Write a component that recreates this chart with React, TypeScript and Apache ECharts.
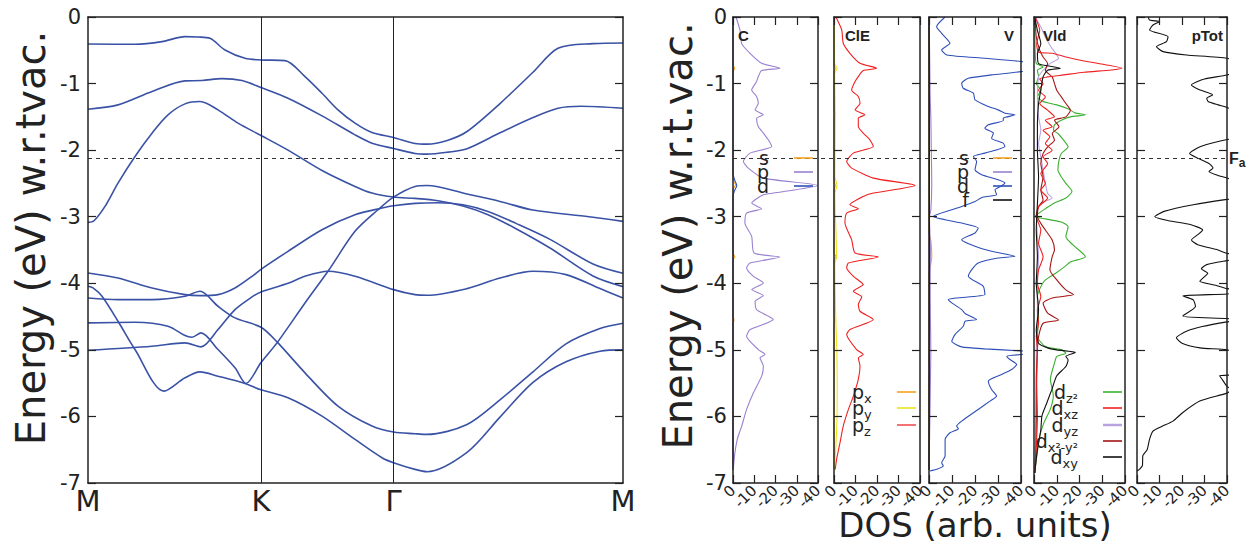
import React, { useEffect, useRef } from 'react';
import * as echarts from 'echarts';

// ---------------- data ----------------
const K_POINTS = [0, 173, 305.5, 535];
const K_LABELS = ['M', 'K', 'Γ', 'M'];
const FERMI = -2.12;
const E_MIN = -7;
const E_MAX = 0;
const DOS_MIN = -40;
const DOS_MAX = 0;

// band structure: [k, E]
const BAND_A = [[0,-0.405],[47,-0.41],[74,-0.37],[97,-0.295],[110,-0.3],[122,-0.32],[137,-0.495],[157,-0.62],[173,-0.645],[197,-0.655],[217,-0.895],[234,-1.145],[250,-1.395],[267,-1.595],[284,-1.735],[305.5,-1.81],[327,-1.9],[339,-1.91],[360,-1.85],[379,-1.72],[412,-1.3],[445,-0.83],[470,-0.47],[505,-0.4],[535,-0.39]];
const BAND_B = [[0,-1.385],[30,-1.32],[64,-1.12],[97,-0.96],[114,-0.955],[134,-0.925],[154,-0.955],[173,-1.06],[200,-1.22],[234,-1.485],[267,-1.77],[284,-1.895],[305.5,-1.975],[327,-2.05],[339,-2.06],[360,-2.03],[379,-1.98],[412,-1.74],[445,-1.51],[470,-1.37],[493,-1.34],[535,-1.37]];
const BAND_C = [[0,-3.085],[6,-3.06],[17,-2.845],[30,-2.495],[47,-2.095],[64,-1.745],[80,-1.47],[97,-1.305],[112,-1.27],[130,-1.395],[150,-1.595],[173,-1.78],[200,-2.0],[234,-2.305],[267,-2.545],[284,-2.645],[305.5,-2.705],[327,-2.725],[350,-2.76],[375,-2.84],[400,-2.97],[428,-3.18],[462,-3.47],[505,-3.89],[535,-4.05]];
const BAND_D = [[0,-3.845],[30,-3.92],[64,-4.07],[97,-4.17],[112,-4.185],[130,-4.17],[147,-4.07],[164,-3.895],[173,-3.79],[200,-3.52],[234,-3.195],[267,-2.97],[294,-2.87],[305.5,-2.835],[327,-2.8],[350,-2.79],[375,-2.82],[400,-2.92],[428,-3.1],[462,-3.34],[505,-3.71],[535,-3.85]];
const BAND_E = [[0,-4.045],[5,-4.07],[14,-4.195],[30,-4.57],[47,-4.995],[76,-5.62],[97,-5.42],[112,-5.33],[130,-5.395],[157,-5.505],[173,-5.6],[200,-5.72],[234,-5.995],[267,-6.345],[294,-6.62],[305.5,-6.695],[327,-6.795],[339,-6.83],[379,-6.54],[412,-6.01],[445,-5.49],[478,-5.18],[512,-5.02],[535,-5.0]];
const BAND_F = [[0,-4.22],[30,-4.245],[64,-4.245],[97,-4.195],[112,-4.12],[130,-4.345],[147,-4.52],[173,-4.66],[189,-4.88],[217,-5.345],[250,-5.845],[284,-6.145],[305.5,-6.235],[327,-6.26],[339,-6.27],[379,-6.12],[412,-5.75],[445,-5.33],[478,-4.91],[512,-4.68],[535,-4.6]];
const BAND_G = [[0,-4.595],[47,-4.585],[80,-4.645],[97,-4.785],[104,-4.81],[113,-4.745],[130,-4.995],[147,-5.27],[158,-5.505],[173,-5.19],[189,-4.895],[217,-4.295],[240,-3.82],[267,-3.22],[290,-2.895],[305.5,-2.705],[327,-2.545],[339,-2.53],[379,-2.66],[412,-2.77],[445,-2.9],[501,-3.0],[535,-3.07]];
const BAND_H = [[0,-5.005],[64,-4.945],[97,-4.895],[113,-4.955],[130,-4.695],[147,-4.395],[164,-4.205],[173,-4.13],[200,-4.0],[217,-3.895],[240,-3.82],[267,-3.895],[305.5,-4.095],[327,-4.17],[339,-4.18],[379,-4.08],[412,-3.92],[445,-3.82],[478,-3.87],[512,-4.08],[535,-4.22]];
const BANDS = [BAND_A, BAND_B, BAND_C, BAND_D, BAND_E, BAND_F, BAND_G, BAND_H];

// DOS curves: [E, DOS]
const C_S = [[0,0],[-0.72,0],[-0.77,-0.8],[-0.82,0],[-2.45,0],[-2.52,-1.2],[-2.6,0],[-3.55,0],[-3.6,-0.9],[-3.65,0],[-4.5,0],[-4.55,-0.5],[-4.6,0],[-6.8,0]];
const C_P = [[0,-1.4],[-0.2,-3.3],[-0.4,-4.1],[-0.545,-8.0],[-0.695,-13.5],[-0.77,-22.1],[-0.805,-13.5],[-0.895,-11.9],[-0.97,-11.1],[-1.095,-8.8],[-1.195,-11.1],[-1.295,-11.9],[-1.395,-10.4],[-1.47,-14.3],[-1.52,-11.1],[-1.645,-11.9],[-1.745,-14.3],[-1.845,-16.6],[-1.945,-18.2],[-2.045,-8.0],[-2.17,-4.9],[-2.27,-7.2],[-2.42,-14.3],[-2.53,-39.7],[-2.645,-19.0],[-2.67,-14.3],[-2.795,-8.8],[-2.88,-13.5],[-2.945,-6.4],[-3.095,-5.6],[-3.295,-8.8],[-3.545,-9.9],[-3.605,-22.1],[-3.695,-8.0],[-3.77,-6.4],[-3.895,-9.6],[-3.995,-14.3],[-4.095,-8.8],[-4.185,-14.3],[-4.27,-10.4],[-4.395,-11.1],[-4.545,-19.0],[-4.695,-8.0],[-4.795,-6.4],[-4.995,-11.9],[-5.07,-15.1],[-5.12,-12.7],[-5.245,-14.3],[-5.395,-13.5],[-5.645,-9.6],[-5.895,-6.4],[-6.145,-4.1],[-6.245,-3.0],[-6.345,-2.0],[-6.545,-0.9],[-6.77,-0.2]];
const C_D = [[0,0],[-2.35,0],[-2.45,-0.8],[-2.53,-1.8],[-2.62,-0.6],[-2.7,0],[-6.8,0]];

const CLE_PX = [[0,0],[-0.72,0],[-0.77,-0.6],[-0.82,0],[-1.4,0],[-1.45,-0.5],[-1.5,0],[-2.45,0],[-2.53,-0.6],[-2.6,0],[-3.55,0],[-3.6,-1.0],[-3.65,0],[-4.5,0],[-4.55,-0.4],[-4.6,0],[-6.8,0]];
const CLE_PY = [[0,-0.2],[-0.7,-0.3],[-0.77,-1.5],[-0.85,-0.3],[-1.5,-0.6],[-2.4,-0.4],[-2.53,-1.4],[-2.65,-0.4],[-3.6,-1.2],[-3.7,-0.4],[-4.5,-0.8],[-5.0,-1.3],[-5.5,-1.5],[-6.0,-1.4],[-6.5,-0.8],[-6.8,0]];
const CLE_PZ = [[0,-0.9],[-0.195,-3.6],[-0.395,-4.3],[-0.545,-7.4],[-0.695,-12.1],[-0.77,-19.8],[-0.805,-13.6],[-0.895,-11.3],[-0.97,-9.8],[-1.095,-8.2],[-1.195,-11.3],[-1.295,-12.1],[-1.395,-9.8],[-1.47,-14.4],[-1.52,-11.3],[-1.645,-11.3],[-1.745,-13.6],[-1.845,-16.7],[-1.945,-18.3],[-2.045,-9.0],[-2.17,-5.9],[-2.27,-8.2],[-2.42,-18.3],[-2.53,-37.7],[-2.645,-18.3],[-2.695,-13.6],[-2.82,-7.4],[-2.88,-11.3],[-2.945,-5.9],[-3.095,-5.1],[-3.345,-8.2],[-3.545,-9.8],[-3.605,-20.6],[-3.695,-6.7],[-3.77,-5.9],[-3.895,-9.0],[-4.02,-13.6],[-4.12,-9.0],[-4.205,-12.9],[-4.32,-11.3],[-4.42,-12.1],[-4.545,-18.3],[-4.695,-7.4],[-4.77,-5.9],[-4.995,-10.5],[-5.07,-13.6],[-5.12,-11.3],[-5.245,-12.1],[-5.445,-11.3],[-5.695,-9.0],[-5.895,-6.7],[-6.145,-4.3],[-6.395,-2.8],[-6.645,-1.2],[-6.795,-0.6]];

const V_S = [[0,0],[-3.25,0],[-3.35,-0.8],[-3.6,-1.2],[-3.75,-0.6],[-3.85,0],[-5.2,0],[-5.3,-0.5],[-5.4,0],[-6.8,0]];
const V_P = [[0,0],[-0.6,-0.3],[-1.2,-0.5],[-1.5,-0.8],[-2.0,-1.0],[-2.5,-1.2],[-2.9,-0.8],[-3.0,-0.2],[-3.5,-0.6],[-4.0,-0.5],[-4.5,-0.6],[-5.0,-0.8],[-5.5,-0.6],[-6.0,-0.4],[-6.8,0]];
const V_D = [[0,-7.0],[-0.145,-3.3],[-0.245,-5.5],[-0.395,-9.1],[-0.495,-5.5],[-0.57,-7.7],[-0.62,-24.3],[-0.67,-40.3],[-0.75,-50],[-0.82,-40],[-0.87,-27.2],[-0.92,-17.1],[-0.995,-14.2],[-1.07,-14.9],[-1.145,-19.3],[-1.245,-20.0],[-1.345,-25.8],[-1.395,-30.1],[-1.445,-33.0],[-1.47,-37.4],[-1.52,-32.3],[-1.555,-32.3],[-1.62,-25.8],[-1.67,-24.3],[-1.745,-28.0],[-1.82,-27.2],[-1.895,-32.3],[-1.945,-33.0],[-2.045,-24.3],[-2.095,-19.3],[-2.17,-20.7],[-2.295,-20.0],[-2.37,-22.9],[-2.445,-30.1],[-2.495,-33.0],[-2.535,-31.6],[-2.595,-28.7],[-2.67,-29.4],[-2.705,-23.6],[-2.77,-20.0],[-2.845,-14.2],[-2.895,-9.9],[-2.995,-1.9],[-3.045,-7.0],[-3.095,-14.2],[-3.17,-21.4],[-3.245,-20.0],[-3.345,-14.2],[-3.445,-20.0],[-3.52,-27.2],[-3.595,-37.4],[-3.62,-30.1],[-3.695,-21.4],[-3.795,-18.6],[-3.895,-17.1],[-4.045,-23.6],[-4.17,-24.3],[-4.22,-12.0],[-4.245,-8.4],[-4.295,-9.9],[-4.395,-14.2],[-4.455,-15.7],[-4.545,-20.7],[-4.57,-15.7],[-4.645,-14.9],[-4.77,-11.3],[-4.87,-9.9],[-4.955,-14.2],[-4.985,-24.3],[-5.015,-40],[-5.04,-48],[-5.07,-40],[-5.095,-33.8],[-5.145,-35.2],[-5.22,-38.1],[-5.295,-35.9],[-5.37,-31.6],[-5.47,-25.8],[-5.595,-27.2],[-5.695,-29.4],[-5.77,-26.5],[-5.895,-21.4],[-6.07,-14.2],[-6.145,-12.0],[-6.185,-12.8],[-6.245,-9.1],[-6.345,-7.0],[-6.595,-7.0],[-6.695,-5.5],[-6.745,-6.2],[-6.795,-3.3],[-6.82,-0.4]];
const V_F = [[0,0],[-2.5,-0.2],[-6.8,0]];

const VLD_DZ2 = [[0,-0.3],[-0.5,-0.5],[-0.7,-1],[-0.75,-4],[-0.8,-1.5],[-0.9,-2],[-1.0,-1],[-1.1,-3],[-1.2,-1.5],[-1.27,-4],[-1.32,-10],[-1.38,-15],[-1.44,-18],[-1.47,-22.6],[-1.5,-16],[-1.55,-12],[-1.62,-9],[-1.7,-8.6],[-1.75,-10.5],[-1.85,-13],[-1.95,-15],[-2.05,-12],[-2.15,-11],[-2.3,-10.5],[-2.4,-12],[-2.5,-14],[-2.62,-16.7],[-2.72,-14],[-2.8,-8.6],[-2.88,-5],[-2.95,-2],[-3.0,-0.5],[-3.02,-3],[-3.08,-12],[-3.15,-15],[-3.3,-14],[-3.42,-17],[-3.6,-22.6],[-3.68,-16],[-3.75,-13.5],[-3.85,-9.5],[-3.95,-5],[-4.05,-3],[-4.2,-1.5],[-4.5,-2],[-4.8,-1.5],[-4.95,-5],[-5.0,-12.3],[-5.05,-14],[-5.1,-10],[-5.2,-9],[-5.44,-7.2],[-5.69,-8.5],[-5.89,-7.2],[-6.1,-4.3],[-6.3,-2.5],[-6.6,-1.2],[-6.85,-0.3]];
const VLD_DXZ = [[0,-0.5],[-0.2,-2.5],[-0.4,-1.2],[-0.53,-2],[-0.545,-8],[-0.6,-14],[-0.66,-22],[-0.72,-32],[-0.77,-38.7],[-0.795,-34],[-0.83,-22],[-0.87,-13],[-0.9,-6],[-0.93,-2.5],[-1.0,-4],[-1.1,-2],[-1.2,-5],[-1.3,-2.5],[-1.4,-6],[-1.5,-9],[-1.55,-5],[-1.65,-8],[-1.7,-4],[-1.8,-7],[-1.9,-5],[-2.0,-8],[-2.1,-4],[-2.2,-6],[-2.35,-3],[-2.5,-5],[-2.6,-3],[-2.72,-6],[-2.85,-2],[-3.0,-1],[-3.2,-3],[-3.4,-2],[-3.6,-4],[-3.8,-2],[-4.0,-1.5],[-4.2,-3],[-4.4,-1.5],[-4.6,-2],[-4.8,-1],[-5.0,-1.5],[-5.5,-1.2],[-6.0,-1.5],[-6.5,-1.0],[-6.85,-0.5]];
const VLD_DYZ = [[0,-0.5],[-0.15,-3],[-0.3,-5],[-0.45,-7.5],[-0.62,-10.8],[-0.7,-7],[-0.8,-4],[-0.9,-2],[-1.2,-1.5],[-1.5,-2],[-1.7,-3],[-1.9,-2],[-2.1,-3],[-2.3,-4],[-2.5,-5],[-2.65,-6],[-2.72,-8],[-2.8,-3],[-2.95,-1],[-3.3,-1.5],[-3.6,-2],[-4.0,-1.5],[-4.5,-1.5],[-5.0,-1],[-5.5,-1],[-6.0,-0.8],[-6.85,-0.3]];
const VLD_DX2Y2 = [[0,-0.5],[-0.3,-1],[-0.5,-2.5],[-0.6,-4],[-0.7,-6],[-0.8,-5],[-0.9,-8],[-1.0,-9],[-1.1,-10],[-1.2,-12],[-1.3,-14],[-1.4,-16],[-1.5,-14],[-1.55,-9],[-1.65,-11],[-1.75,-8],[-1.85,-9],[-1.95,-6],[-2.05,-4],[-2.2,-3],[-2.4,-4],[-2.6,-3],[-2.75,-4],[-2.85,-2],[-3.0,-1.5],[-3.1,-3],[-3.2,-5],[-3.35,-8],[-3.5,-9],[-3.6,-8],[-3.8,-7],[-3.95,-10],[-4.1,-14],[-4.17,-17.4],[-4.22,-8],[-4.3,-4],[-4.45,-6],[-4.55,-10.8],[-4.6,-4],[-4.8,-2],[-5.0,-1.5],[-5.5,-1],[-6.0,-1],[-6.5,-0.8],[-6.85,-0.3]];
const VLD_DXY = [[0,-0.3],[-0.2,-1.5],[-0.4,-3],[-0.55,-1.5],[-0.7,-2],[-0.75,-9],[-0.77,-11.6],[-0.8,-6],[-0.9,-4],[-1.1,-3],[-1.3,-2],[-1.6,-1.5],[-2.0,-1.5],[-2.4,-2],[-2.8,-1.5],[-3.2,-1],[-3.6,-1.5],[-4.0,-1],[-4.4,-2],[-4.7,-1],[-4.9,-2],[-4.97,-6],[-5.0,-10],[-5.04,-18.2],[-5.1,-14],[-5.15,-15],[-5.25,-14],[-5.39,-10],[-5.59,-7.9],[-5.79,-5.7],[-5.99,-3.5],[-6.2,-3],[-6.5,-1.5],[-6.85,-0.3]];

const PTOT = [[0,-5.0],[-0.045,-5.6],[-0.07,-10.1],[-0.12,-7.1],[-0.195,-5.6],[-0.295,-13.8],[-0.37,-13.1],[-0.445,-8.6],[-0.52,-11.6],[-0.57,-22],[-0.62,-40],[-0.75,-50],[-0.87,-40],[-0.93,-30],[-1.02,-24.2],[-1.08,-27],[-1.12,-30],[-1.17,-33.6],[-1.22,-31],[-1.27,-31.6],[-1.32,-36],[-1.36,-40],[-1.5,-50],[-1.8,-50],[-1.84,-40],[-1.95,-28],[-2.05,-23.4],[-2.12,-27],[-2.2,-32],[-2.27,-33.8],[-2.32,-32],[-2.38,-36],[-2.42,-40],[-2.55,-50],[-2.7,-50],[-2.74,-40],[-2.82,-25],[-2.92,-12],[-3.0,-7.9],[-3.06,-14],[-3.12,-24],[-3.2,-29.2],[-3.27,-27],[-3.35,-24.2],[-3.42,-27],[-3.5,-36],[-3.55,-40],[-3.6,-50],[-3.66,-40],[-3.72,-31],[-3.78,-28.6],[-3.85,-31.5],[-3.9,-30],[-3.97,-27.9],[-4.03,-35],[-4.08,-40],[-4.12,-50],[-4.16,-40],[-4.19,-20.4],[-4.25,-25],[-4.35,-26],[-4.49,-20.4],[-4.53,-40],[-4.56,-45],[-4.58,-40],[-4.65,-29],[-4.72,-22],[-4.82,-17.5],[-4.9,-20],[-4.97,-28],[-5.0,-40],[-5.1,-50],[-5.35,-50],[-5.39,-36.7],[-5.45,-38],[-5.55,-40],[-5.6,-42],[-5.65,-40],[-5.77,-27.9],[-5.94,-20.4],[-6.07,-16],[-6.15,-11],[-6.22,-7.1],[-6.34,-5.6],[-6.5,-4.5],[-6.59,-2.6],[-6.74,-2.4],[-6.79,-1.2],[-6.82,0]];

// ---------------- styling / layout ----------------
const FONT = '"DejaVu Sans", sans-serif';
const BOLD = '"Liberation Sans", Arial, sans-serif';
const TXT = '#222';
const BAND_COLOR = '#3a52a5';
const COL = {
  orange: '#f5a31e', purple: '#9a80d0', blue: '#2f4fb8', red: '#f02020', yellow: '#ece21a',
  green: '#3cb030', darkred: '#a51515', black: '#111', lavender: '#b9a3e0',
};
const TOP = 17;
const BOTTOM = 546 - 483;
const PANELS = [
  { left: 733, width: 85 },
  { left: 834, width: 86 },
  { left: 929, width: 92 },
  { left: 1034, width: 91 },
  { left: 1137, width: 90 },
];

const DOS_SERIES: [string, number[][], string, number][] = [
  ['C s', C_S, COL.orange, 0],
  ['C d', C_D, COL.blue, 0],
  ['C p', C_P, COL.purple, 0],
  ['ClE px', CLE_PX, COL.orange, 1],
  ['ClE py', CLE_PY, COL.yellow, 1],
  ['ClE pz', CLE_PZ, COL.red, 1],
  ['V s', V_S, COL.orange, 2],
  ['V p', V_P, COL.purple, 2],
  ['V f', V_F, COL.black, 2],
  ['V d', V_D, COL.blue, 2],
  ['Vld dz2', VLD_DZ2, COL.green, 3],
  ['Vld dyz', VLD_DYZ, COL.lavender, 3],
  ['Vld dx2-y2', VLD_DX2Y2, COL.darkred, 3],
  ['Vld dxz', VLD_DXZ, COL.red, 3],
  ['Vld dxy', VLD_DXY, COL.black, 3],
  ['pTot', PTOT, COL.black, 4],
];

function buildOption() {
  const axisLine = { show: true, onZero: false, lineStyle: { color: TXT, width: 1.5 } };
  const tickIn = { show: true, inside: true, length: 8, lineStyle: { color: TXT, width: 1.2 } };
  const noLabel = { show: false };

  const grid: any[] = [
    { left: 88, width: 535, top: TOP, bottom: BOTTOM, containLabel: false },
    ...PANELS.map((p) => ({ left: p.left, width: p.width, top: TOP, bottom: BOTTOM })),
    { left: PANELS[0].left, width: PANELS[4].left + PANELS[4].width - PANELS[0].left, top: TOP, bottom: BOTTOM },
  ];

  const xAxis: any[] = [
    {
      type: 'value', gridIndex: 0, min: K_POINTS[0], max: K_POINTS[3], position: 'bottom', z: 10,
      axisLine, axisTick: { show: false }, splitLine: { show: false },
      axisLabel: {
        customValues: K_POINTS,
        formatter: (v: number) => {
          const i = K_POINTS.findIndex((k) => Math.abs(k - v) < 1e-6);
          return i >= 0 ? K_LABELS[i] : '';
        },
        fontSize: 29, fontFamily: FONT, color: TXT, margin: 3,
      },
    },
    { type: 'value', gridIndex: 0, min: K_POINTS[0], max: K_POINTS[3], position: 'top', z: 10, axisLine, axisTick: { show: false }, axisLabel: noLabel, splitLine: { show: false } },
  ];
  const yAxis: any[] = [
    {
      type: 'value', gridIndex: 0, min: E_MIN, max: E_MAX, interval: 1, position: 'left', z: 10,
      axisLine, axisTick: tickIn, splitLine: { show: false },
      axisLabel: { fontSize: 21, fontFamily: FONT, color: TXT, margin: 7 },
    },
    { type: 'value', gridIndex: 0, min: E_MIN, max: E_MAX, interval: 1, position: 'right', z: 10, axisLine, axisTick: tickIn, splitLine: { show: false }, axisLabel: noLabel },
  ];

  PANELS.forEach((_, i) => {
    const g = i + 1;
    xAxis.push({
      type: 'value', gridIndex: g, min: DOS_MIN, max: DOS_MAX, interval: 10, inverse: true, position: 'bottom', z: 10,
      axisLine, axisTick: tickIn, splitLine: { show: false },
      axisLabel: { rotate: 45, fontSize: 15, fontFamily: FONT, color: TXT, margin: 5, showMinLabel: true, showMaxLabel: true },
    });
    xAxis.push({
      type: 'value', gridIndex: g, min: DOS_MIN, max: DOS_MAX, interval: 10, inverse: true, position: 'top', z: 10,
      axisLine, axisTick: tickIn, splitLine: { show: false }, axisLabel: noLabel,
    });
    yAxis.push({
      type: 'value', gridIndex: g, min: E_MIN, max: E_MAX, interval: 1, position: 'left', z: 10,
      axisLine, axisTick: tickIn, splitLine: { show: false },
      axisLabel: i === 0 ? { fontSize: 21, fontFamily: FONT, color: TXT, margin: 6 } : noLabel,
    });
    yAxis.push({
      type: 'value', gridIndex: g, min: E_MIN, max: E_MAX, interval: 1, position: 'right', z: 10,
      axisLine, axisTick: tickIn, splitLine: { show: false }, axisLabel: noLabel,
    });
  });
  // full-width overlay grid for the Fermi line across all DOS panels
  xAxis.push({ type: 'value', gridIndex: 6, min: 0, max: 1, show: false });
  yAxis.push({ type: 'value', gridIndex: 6, min: E_MIN, max: E_MAX, show: false });

  const series: any[] = [];
  BANDS.forEach((b, i) => {
    series.push({
      name: 'band ' + i, type: 'line', xAxisIndex: 0, yAxisIndex: 0, data: b,
      symbol: 'none', smooth: 0.3, silent: true,
      lineStyle: { color: BAND_COLOR, width: 1.6 },
    });
  });
  series.push({
    name: 'band marks', type: 'line', xAxisIndex: 0, yAxisIndex: 0, data: [], silent: true,
    markLine: {
      symbol: ['none', 'none'], silent: true, label: { show: false },
      data: [
        { xAxis: K_POINTS[1], lineStyle: { type: 'solid', color: TXT, width: 1 } },
        { xAxis: K_POINTS[2], lineStyle: { type: 'solid', color: TXT, width: 1 } },
        { yAxis: FERMI, lineStyle: { type: [4, 4], color: '#333', width: 1 } },
      ],
    },
  });
  DOS_SERIES.forEach(([name, data, color, panel]) => {
    series.push({
      name, type: 'line', xAxisIndex: 2 + 2 * panel, yAxisIndex: 2 + 2 * panel,
      data: data.map(([e, v]) => [v, e]), symbol: 'none', smooth: 0.2, silent: true, clip: true,
      lineStyle: { color, width: 1.1 },
    });
  });
  series.push({
    name: 'fermi', type: 'line', xAxisIndex: 12, yAxisIndex: 12, data: [], silent: true,
    markLine: {
      symbol: ['none', 'none'], silent: true, label: { show: false },
      data: [{ yAxis: FERMI }],
      lineStyle: { type: [4, 4], color: '#333', width: 1 },
    },
  });

  const txt = (x: number, y: number, text: string, extra: any = {}, el: any = {}) => ({
    type: 'text', x, y, silent: true, z: 20, ...el,
    style: {
      text, fill: TXT, fontFamily: FONT, fontSize: 19,
      align: 'left', verticalAlign: 'middle', textAlign: 'left', textVerticalAlign: 'middle',
      ...extra,
    },
  });
  const right = { align: 'right', textAlign: 'right' };
  const center = { align: 'center', textAlign: 'center' };
  const sampleLine = (x1: number, x2: number, y: number, color: string, w = 1.6) => ({
    type: 'line', silent: true, z: 20, shape: { x1, y1: y, x2, y2: y }, style: { stroke: color, lineWidth: w },
  });
  const rich = {
    m: { fontSize: 19, fontFamily: FONT, lineHeight: 26, verticalAlign: 'middle' },
    s: { fontSize: 13, fontFamily: FONT, lineHeight: 14, verticalAlign: 'bottom' },
  };
  const richTxt = (x: number, y: number, text: string, align: any) =>
    txt(x, y, text, { rich, ...align });
  const title = (x: number, y: number, text: string, align: any) =>
    txt(x, y, text, { fontFamily: BOLD, fontWeight: 'bold', fontSize: 15, ...align });

  const graphic: any[] = [
    txt(31, 238, 'Energy (eV) w.r.tvac.', { fontSize: 40, ...center }, { rotation: Math.PI / 2 }),
    txt(678, 236, 'Energy (eV) w.r.t.vac.', { fontSize: 40, ...center }, { rotation: Math.PI / 2 }),
    txt(975, 525, 'DOS (arb. units)', { fontSize: 34, ...center }),
    title(738, 35, 'C', {}),
    title(845, 35, 'ClE', {}),
    title(1014, 35, 'V', right),
    title(1043, 35, 'Vld', {}),
    title(1223, 35, 'pTot', right),
    txt(1229, 158, '{f|F}{a|a}', {
      rich: {
        f: { fontSize: 16, fontFamily: BOLD, fontWeight: 'bold', lineHeight: 22, verticalAlign: 'middle' },
        a: { fontSize: 12, fontFamily: BOLD, fontWeight: 'bold', lineHeight: 13, verticalAlign: 'bottom' },
      },
    }),
    // C legend
    txt(769, 158, 's', right), txt(769, 172, 'p', right), txt(769, 186, 'd', right),
    sampleLine(794, 813, 158, COL.orange), sampleLine(794, 813, 172, COL.purple), sampleLine(794, 813, 186, COL.blue),
    // ClE legend
    richTxt(852, 392, '{m|p}{s|x}', {}), richTxt(852, 408, '{m|p}{s|y}', {}), richTxt(852, 425, '{m|p}{s|z}', {}),
    sampleLine(897, 916, 392, COL.orange), sampleLine(897, 916, 408, COL.yellow), sampleLine(897, 916, 425, '#f05050'),
    // V legend
    txt(969, 158, 's', right), txt(969, 172, 'p', right), txt(969, 186, 'd', right), txt(969, 200, 'f', right),
    sampleLine(993, 1012, 158, COL.orange), sampleLine(993, 1012, 172, COL.purple), sampleLine(993, 1012, 186, COL.blue), sampleLine(993, 1012, 200, COL.black),
    // Vld legend
    richTxt(1078, 392, '{m|d}{s|z²}', right),
    richTxt(1078, 408, '{m|d}{s|xz}', right),
    richTxt(1078, 425, '{m|d}{s|yz}', right),
    richTxt(1078, 441, '{m|d}{s|x²-y²}', right),
    richTxt(1078, 457, '{m|d}{s|xy}', right),
    sampleLine(1103, 1122, 392, COL.green), sampleLine(1103, 1122, 408, COL.red),
    sampleLine(1103, 1122, 425, COL.lavender, 2.5), sampleLine(1103, 1122, 441, COL.darkred), sampleLine(1103, 1122, 457, COL.black),
  ];

  return {
    animation: false,
    backgroundColor: '#fff',
    grid, xAxis, yAxis, series, graphic,
  };
}

export default function App() {
  const ref = useRef<HTMLDivElement>(null);
  useEffect(() => {
    if (!ref.current) return;
    const chart = echarts.init(ref.current, null, { renderer: 'svg' });
    chart.setOption(buildOption() as any);
    return () => chart.dispose();
  }, []);
  return (
    <div
      ref={ref}
      style={{ position: 'fixed', left: 0, top: 0, width: 1254, height: 546, background: '#fff' }}
    />
  );
}
